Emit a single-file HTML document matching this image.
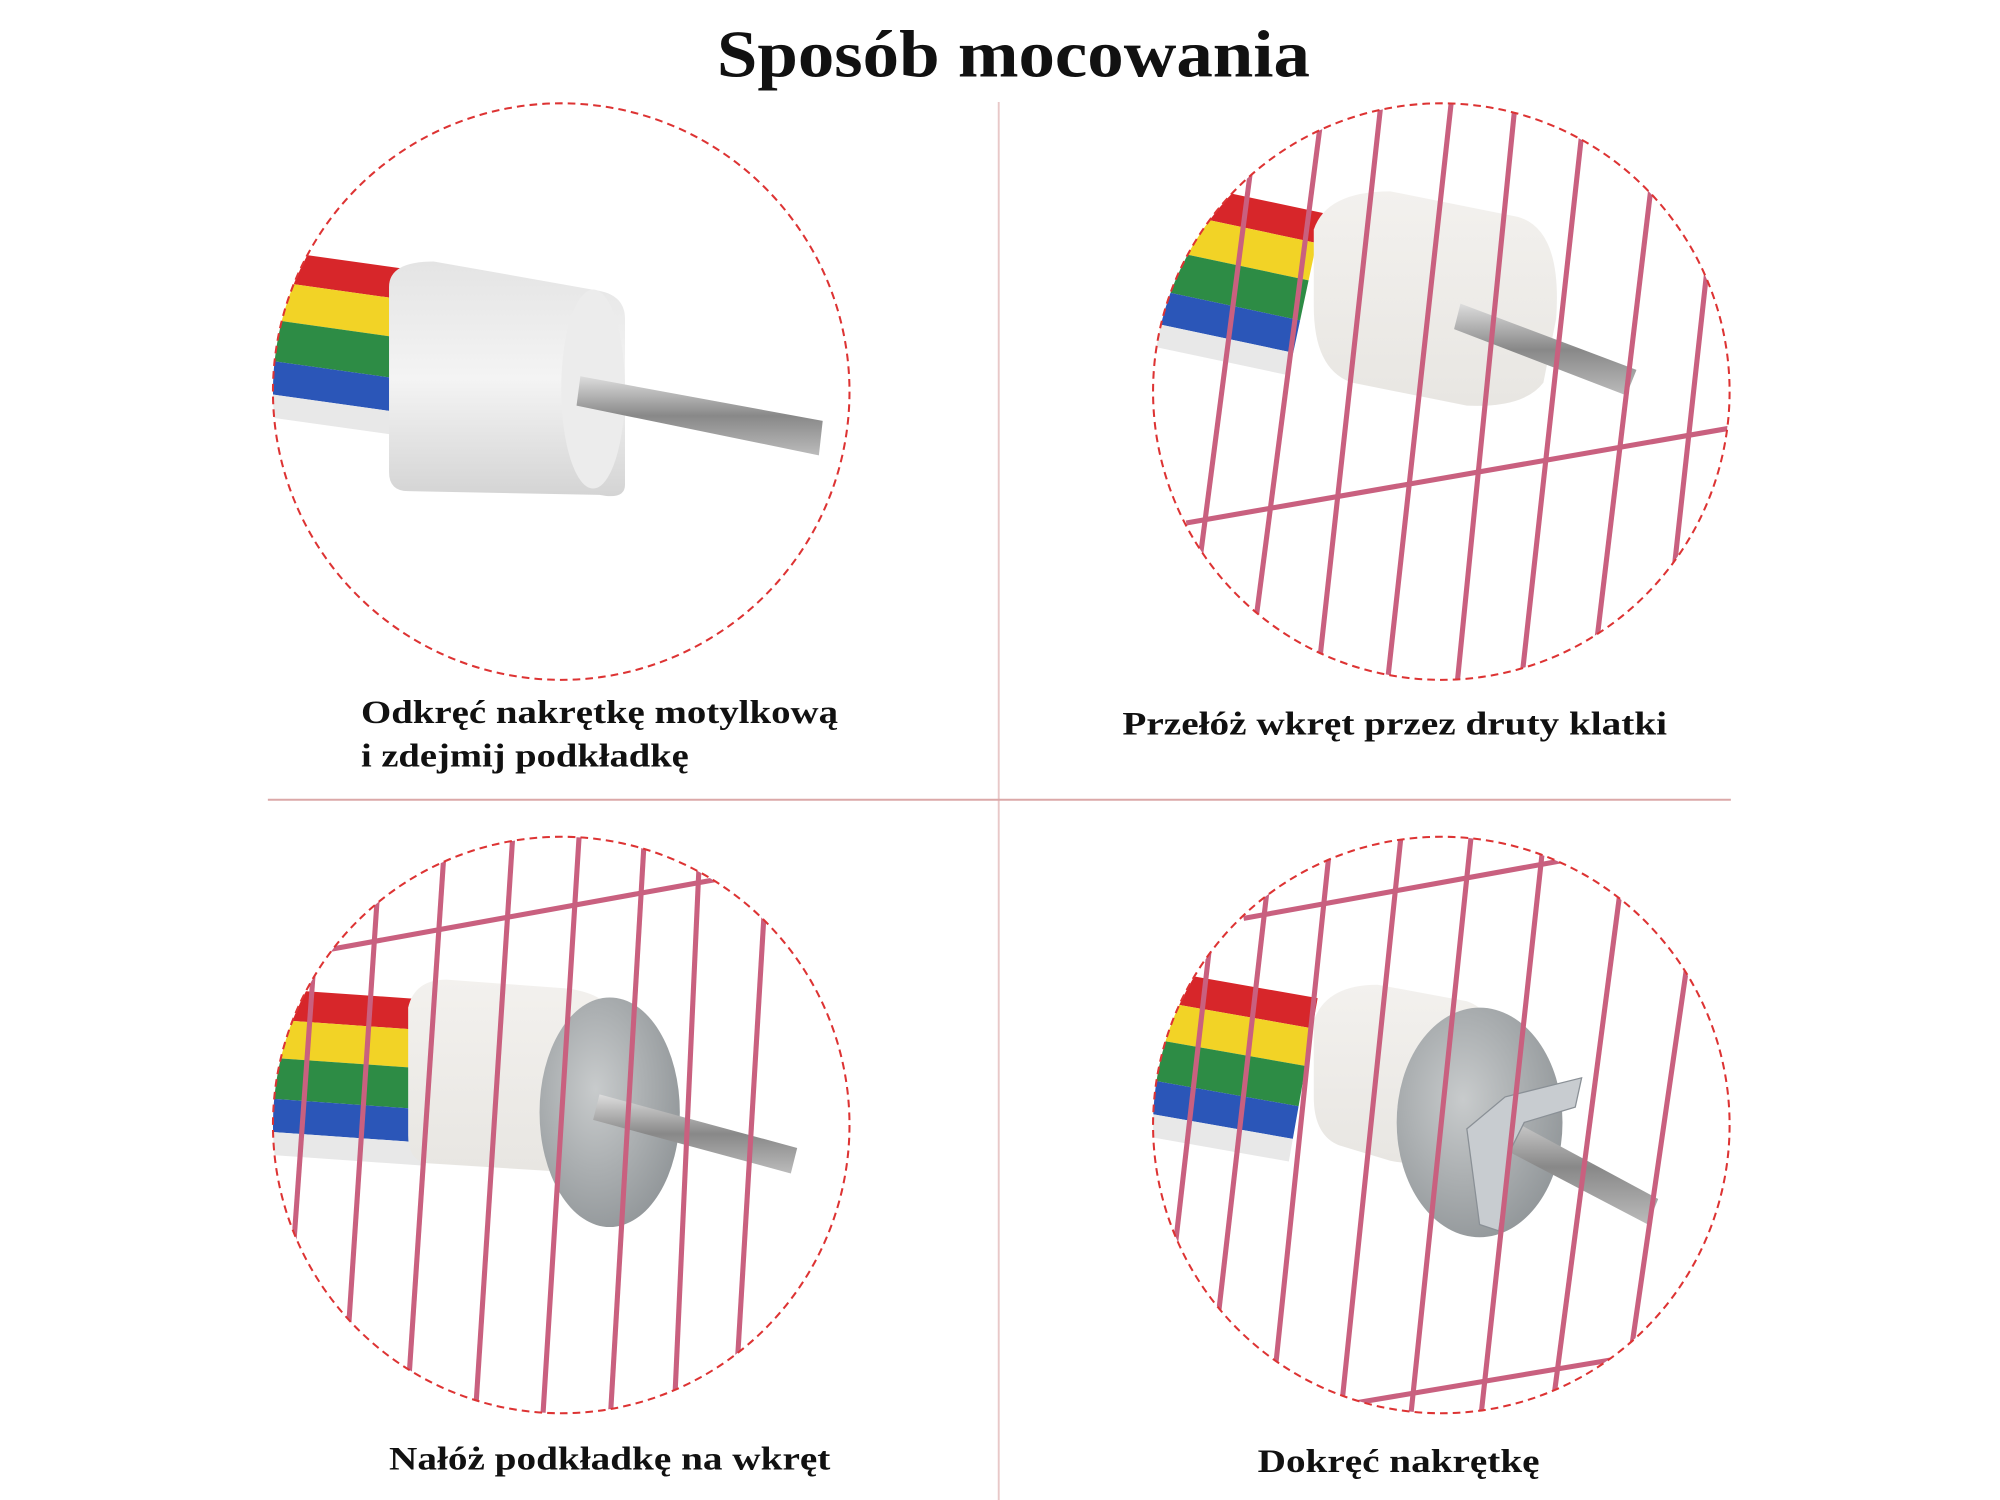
<!DOCTYPE html>
<html><head><meta charset="utf-8"><style>
html,body{margin:0;padding:0;background:#fff;width:2000px;height:1500px;overflow:hidden}
svg{display:block}
text{font-family:"Liberation Serif",serif;font-weight:bold;fill:#111}
</style></head><body>
<svg width="2000" height="1500" viewBox="0 0 1568 1176" xmlns="http://www.w3.org/2000/svg">
<defs>
<clipPath id="c1"><circle cx="440" cy="307" r="226"/></clipPath>
<clipPath id="c2"><circle cx="1130" cy="307" r="226"/></clipPath>
<clipPath id="c3"><circle cx="440" cy="882" r="226"/></clipPath>
<clipPath id="c4"><circle cx="1130" cy="882" r="226"/></clipPath>
<linearGradient id="cyl" x1="0" y1="0" x2="0" y2="1"><stop offset="0" stop-color="#e4e4e4"/><stop offset="0.5" stop-color="#f4f4f4"/><stop offset="1" stop-color="#d4d4d4"/></linearGradient>
<linearGradient id="wcyl" x1="0" y1="0" x2="0" y2="1"><stop offset="0" stop-color="#f3f1ee"/><stop offset="1" stop-color="#e8e6e2"/></linearGradient>
<linearGradient id="met" x1="0" y1="0" x2="0" y2="1"><stop offset="0" stop-color="#ddd"/><stop offset="0.5" stop-color="#888"/><stop offset="1" stop-color="#bbb"/></linearGradient>
<radialGradient id="wash" cx="0.4" cy="0.4" r="0.7"><stop offset="0" stop-color="#c8cbcc"/><stop offset="1" stop-color="#8e9396"/></radialGradient>
<g id="rope">
<rect x="0" y="0" width="130" height="24" fill="#d7262a"/>
<rect x="0" y="24" width="130" height="30" fill="#f2d326"/>
<rect x="0" y="54" width="130" height="32" fill="#2d8c45"/>
<rect x="0" y="86" width="130" height="26" fill="#2b56b8"/>
<rect x="0" y="112" width="130" height="18" fill="#e8e8e8"/>
</g>
</defs>

<text x="562" y="60" font-size="52" textLength="465" lengthAdjust="spacingAndGlyphs">Sposób mocowania</text>

<line x1="783" y1="80" x2="783" y2="1176" stroke="#e8c8c8" stroke-width="1.5"/>
<line x1="210" y1="627" x2="1357" y2="627" stroke="#dba8a8" stroke-width="1.5"/>

<!-- TL -->
<g clip-path="url(#c1)">
<use href="#rope" transform="translate(205,195) rotate(8)"/>
<path d="M305 225 Q305 205 340 205 L470 228 Q490 232 490 250 L490 380 Q490 392 470 388 L320 385 Q305 385 305 370 Z" fill="url(#cyl)"/>
<ellipse cx="465" cy="305" rx="25" ry="78" fill="#ececec"/>
<polygon points="455,295 645,330 642,357 452,318" fill="url(#met)"/>
</g>
<circle cx="440" cy="307" r="226" fill="none" stroke="#d33" stroke-width="1.6" stroke-dasharray="6,4"/>

<!-- TR -->
<g clip-path="url(#c2)">
<use href="#rope" transform="translate(910,140) rotate(12)"/>
<path d="M1030 180 Q1040 150 1090 150 L1190 170 Q1225 180 1220 250 L1210 300 Q1195 320 1150 318 L1060 300 Q1030 290 1030 240 Z" fill="url(#wcyl)"/>
<polygon points="1145,238 1283,290 1275,310 1140,258" fill="url(#met)"/>
<g stroke="#c9607f" stroke-width="4" fill="none">
<line x1="1040" y1="60" x2="975" y2="560"/><line x1="1085" y1="60" x2="1030" y2="560"/>
<line x1="1140" y1="60" x2="1085" y2="560"/><line x1="1190" y1="60" x2="1140" y2="560"/>
<line x1="1245" y1="60" x2="1190" y2="560"/><line x1="1300" y1="100" x2="1245" y2="560"/>
<line x1="1345" y1="150" x2="1300" y2="560"/><line x1="990" y1="60" x2="925" y2="560"/>
<line x1="930" y1="410" x2="1360" y2="335"/>
</g>
</g>
<circle cx="1130" cy="307" r="226" fill="none" stroke="#d33" stroke-width="1.6" stroke-dasharray="6,4"/>

<!-- BL -->
<g clip-path="url(#c3)">
<use href="#rope" transform="translate(210,775) rotate(4)"/>
<path d="M320 790 Q325 768 350 768 L445 775 Q480 780 480 800 L470 905 Q460 918 430 918 L335 912 Q320 910 320 890 Z" fill="url(#wcyl)"/>
<ellipse cx="478" cy="872" rx="55" ry="90" fill="url(#wash)"/>
<polygon points="470,858 625,900 620,920 465,878" fill="url(#met)"/>
<g stroke="#c9607f" stroke-width="4" fill="none">
<line x1="300" y1="640" x2="268" y2="1120"/><line x1="350" y1="640" x2="318" y2="1120"/>
<line x1="403" y1="640" x2="372" y2="1120"/><line x1="455" y1="640" x2="425" y2="1120"/>
<line x1="505" y1="660" x2="478" y2="1120"/><line x1="548" y1="680" x2="528" y2="1120"/>
<line x1="600" y1="700" x2="575" y2="1120"/><line x1="250" y1="700" x2="220" y2="1120"/>
<line x1="255" y1="745" x2="570" y2="688"/>
</g>
</g>
<circle cx="440" cy="882" r="226" fill="none" stroke="#d33" stroke-width="1.6" stroke-dasharray="6,4"/>

<!-- BR -->
<g clip-path="url(#c4)">
<use href="#rope" transform="translate(905,760) rotate(10)"/>
<path d="M1030 800 Q1040 772 1080 772 L1150 785 Q1180 795 1170 850 L1150 900 Q1130 918 1090 910 L1050 898 Q1030 890 1030 860 Z" fill="url(#wcyl)"/>
<ellipse cx="1160" cy="880" rx="65" ry="90" fill="url(#wash)"/>
<polygon points="1170,870 1300,940 1292,960 1162,892" fill="url(#met)"/>
<path d="M1150 885 L1180 860 L1240 845 L1235 868 L1195 880 L1185 900 L1175 965 L1160 960 Z" fill="#c8ccd0" stroke="#8a9096"/>
<g stroke="#c9607f" stroke-width="4" fill="none">
<line x1="1000" y1="640" x2="945" y2="1120"/><line x1="1045" y1="640" x2="995" y2="1120"/>
<line x1="1100" y1="640" x2="1050" y2="1120"/><line x1="1155" y1="640" x2="1105" y2="1120"/>
<line x1="1210" y1="660" x2="1160" y2="1120"/><line x1="1270" y1="700" x2="1215" y2="1120"/>
<line x1="1325" y1="740" x2="1270" y2="1120"/><line x1="960" y1="640" x2="905" y2="1120"/>
<line x1="975" y1="720" x2="1240" y2="672"/><line x1="1050" y1="1102" x2="1300" y2="1060"/>
</g>
</g>
<circle cx="1130" cy="882" r="226" fill="none" stroke="#d33" stroke-width="1.6" stroke-dasharray="6,4"/>

<text x="283" y="567" font-size="26" textLength="374" lengthAdjust="spacingAndGlyphs">Odkręć nakrętkę motylkową</text>
<text x="283" y="601" font-size="26" textLength="257" lengthAdjust="spacingAndGlyphs">i zdejmij podkładkę</text>
<text x="880" y="576" font-size="26" textLength="427" lengthAdjust="spacingAndGlyphs">Przełóż wkręt przez druty klatki</text>
<text x="305" y="1152" font-size="26" textLength="346" lengthAdjust="spacingAndGlyphs">Nałóż podkładkę na wkręt</text>
<text x="986" y="1154" font-size="26" textLength="221" lengthAdjust="spacingAndGlyphs">Dokręć nakrętkę</text>
</svg>
</body></html>
